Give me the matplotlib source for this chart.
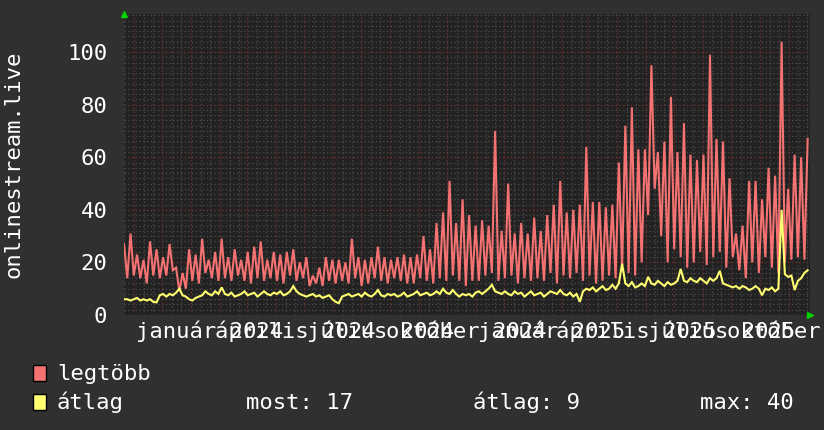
import numpy as np
import pandas as pd
import matplotlib
matplotlib.use("Agg")
import matplotlib.pyplot as plt
import matplotlib.dates as mdates
import matplotlib.transforms as mtransforms
from matplotlib.patches import Rectangle

# ---------------- data ----------------
start_date = "2023-10-21"
data_span_days = 731.5
axis_span_days = 734

legtobb = [27, 14, 31, 15, 23, 14, 21, 12, 28, 15, 25, 14, 22, 15, 27, 17, 18, 9,
           16, 10, 25, 13, 23, 12, 29, 16, 21, 14, 24, 13, 29, 14, 22, 13, 25, 15,
           21, 13, 24, 12, 26, 14, 28, 13, 21, 14, 24, 13, 23, 12, 24, 15, 25, 13,
           20, 14, 22, 11, 15, 12, 18, 11, 22, 13, 21, 12, 21, 13, 20, 12, 29, 14,
           22, 11, 21, 12, 22, 14, 26, 13, 22, 12, 21, 14, 22, 13, 23, 12, 22, 12,
           23, 14, 30, 13, 25, 12, 35, 14, 39, 13, 51, 15, 35, 13, 44, 11, 38, 13,
           34, 13, 36, 15, 34, 16, 70, 13, 32, 14, 50, 15, 31, 12, 35, 14, 31, 13,
           37, 14, 32, 13, 38, 16, 42, 12, 51, 15, 39, 14, 40, 16, 42, 13, 64, 15,
           43, 12, 43, 13, 41, 15, 42, 14, 58, 18, 72, 16, 79, 15, 63, 20, 63, 38,
           95, 48, 62, 30, 66, 20, 83, 25, 62, 22, 73, 18, 61, 20, 59, 24, 61, 19,
           99, 22, 67, 24, 66, 18, 52, 22, 31, 17, 34, 14, 51, 20, 51, 16, 44, 22,
           56, 18, 53, 16, 104, 20, 48, 21, 61, 22, 60, 21, 67]

atlag = [6, 6, 5.5, 6, 6.5, 5.5, 6, 5.5, 6, 5, 4.8,
         7.5, 8, 7, 8, 7.5, 8.5, 10,
         7.5, 7, 6, 5.5, 6.5, 7, 7.5, 9, 8, 7.5, 9, 8, 10.5,
         8, 7.5, 8.5, 7, 7.5, 8, 9, 7.5, 8, 8.5, 7, 8, 9, 8, 7.5, 8.5, 8, 9, 7.5, 8,
         9, 11, 9, 8, 7.5,
         7, 7.5, 8, 7, 7.5, 6.5, 7, 7.5, 6, 5, 4.5,
         7, 7.5, 8, 7, 7.5, 8, 7, 8.5, 7.5, 7, 8, 9.5, 7.5, 7, 8, 7.5, 8, 7, 7.5,
         8.5, 7, 7.5, 8, 9, 7.5, 8, 8.5, 7.5, 8,
         9, 8, 10, 8.5, 8, 9.5, 8, 7, 8, 7.5, 8, 7, 8.5, 9, 8,
         9, 10, 11.5, 9, 8.5, 8,
         9, 8, 7.5, 9, 8, 8.5, 7, 8, 9, 7.5, 8, 8.5, 7, 8, 9, 8.5, 8, 9.5, 8, 7.5,
         8.5, 7, 8, 5,
         9, 10, 9.5, 10.5, 9, 10, 11, 9.5, 10, 11.5, 10, 12,
         19.5,
         12, 11, 12.5, 10.5, 11, 12, 11,
         14.5,
         12, 11.5, 13, 12, 11, 12.5, 11.5, 12, 13,
         17.5,
         13, 12.5, 14, 13, 12.5, 14, 13, 12, 14, 13,
         14, 16.8,
         12, 11.5, 11, 10.5, 11, 10, 11, 10.5, 9.5, 10, 11, 10, 7.5, 10, 9.5, 10.5,
         9, 10, 40,
         15.5, 14.5, 15,
         9.5,
         13, 14, 16, 17]

month_labels = {1: "január", 4: "április", 7: "július", 10: "október"}
y_ticks = [0, 20, 40, 60, 80, 100]
y_label = "onlinestream.live"
legend_names = ["legtöbb", "átlag"]
stats_text = ["most: 17", "átlag: 9", "max: 40"]

# ---------------- style ----------------
BG = "#303030"
PLOT_BG = "#222222"
RED = "#f57272"
YELLOW = "#ffff70"
MINOR = "#4c4c4c"
MAJOR = "#7a3030"
FONT = "DejaVu Sans Mono"
FS = 16

W, H = 824, 430
fig = plt.figure(figsize=(W / 100, H / 100), dpi=100, facecolor=BG)
L, R, T, B = 124, 810, 14, 315
ax = fig.add_axes([L / W, 1 - B / H, (R - L) / W, (B - T) / H])
ax.set_facecolor(PLOT_BG)

d0 = pd.Timestamp(start_date)
dates = d0 + pd.to_timedelta(np.linspace(0, data_span_days, len(legtobb)), unit="D")
x0 = mdates.date2num(d0)
x1 = x0 + axis_span_days
ax.set_xlim(x0, x1)
ymax = 114.5
ax.set_ylim(0, ymax)

dot = (0, (1, 2))
# horizontal grid
for v in np.arange(0, ymax, 2):
    if v % 20 == 0:
        ax.axhline(v, color=MAJOR, lw=0.9, ls=dot, zorder=1)
    else:
        ax.axhline(v, color=MINOR, lw=0.9, ls=dot, zorder=1)

# vertical grid
days = pd.date_range(d0, d0 + pd.Timedelta(days=axis_span_days), freq="D")
for d in days:
    if d.day == 1:
        ax.axvline(mdates.date2num(d), color=MAJOR, lw=0.9, ls=dot, zorder=1)
    elif d.day in (11, 21):
        ax.axvline(mdates.date2num(d), color=MINOR, lw=0.9, ls=dot, zorder=1)

# series
xd = mdates.date2num(dates)
ax.plot(xd, legtobb, color=RED, lw=1.5, zorder=3, solid_joinstyle="miter")
ax.plot(xd, atlag, color=YELLOW, lw=1.5, zorder=4, solid_joinstyle="miter")

# axes cosmetics
for s in ax.spines.values():
    s.set_visible(False)
ax.set_xticks([])
ax.set_yticks(y_ticks)
ax.set_yticklabels([str(t) for t in y_ticks], fontsize=FS, color="white", family=FONT)
ax.tick_params(axis="y", length=0, pad=12)

# x labels
trans = mtransforms.blended_transform_factory(ax.transData, ax.transAxes)
for d in pd.date_range(d0, d0 + pd.Timedelta(days=axis_span_days), freq="MS"):
    if d.month in month_labels:
        lab = f"{month_labels[d.month]} {d.year}"
        ax.text(mdates.date2num(d) + 20, -(338 - B) / (B - T), lab, transform=trans,
                ha="center", va="baseline", fontsize=FS, color="white", family=FONT,
                clip_on=False)

# axis arrows
ax.plot([0], [1.0], marker="^", color="#00d000", markersize=5, transform=ax.transAxes,
        clip_on=False, zorder=6)
ax.plot([1.0], [0], marker=">", color="#00d000", markersize=5, transform=ax.transAxes,
        clip_on=False, zorder=6)

# y label
fig.text(14 / W, 1 - 164 / H, y_label, rotation=90, ha="center", va="center",
         fontsize=FS, color="white", family=FONT)

# legend
for i, (name, col) in enumerate(zip(legend_names, [RED, YELLOW])):
    ytop = 365 + i * 29
    fig.patches.append(Rectangle((33 / W, 1 - (ytop + 16) / H), 13 / W, 16 / H,
                                 transform=fig.transFigure, facecolor=col,
                                 edgecolor="black", lw=1))
    fig.text(57 / W, 1 - (ytop + 15) / H, name, ha="left", va="baseline",
             fontsize=FS, color="white", family=FONT)
for txt, xs in zip(stats_text, [246, 473, 700]):
    fig.text(xs / W, 1 - 409 / H, txt, ha="left", va="baseline",
             fontsize=FS, color="white", family=FONT)

fig.savefig("out.png", dpi=100, facecolor=BG)
